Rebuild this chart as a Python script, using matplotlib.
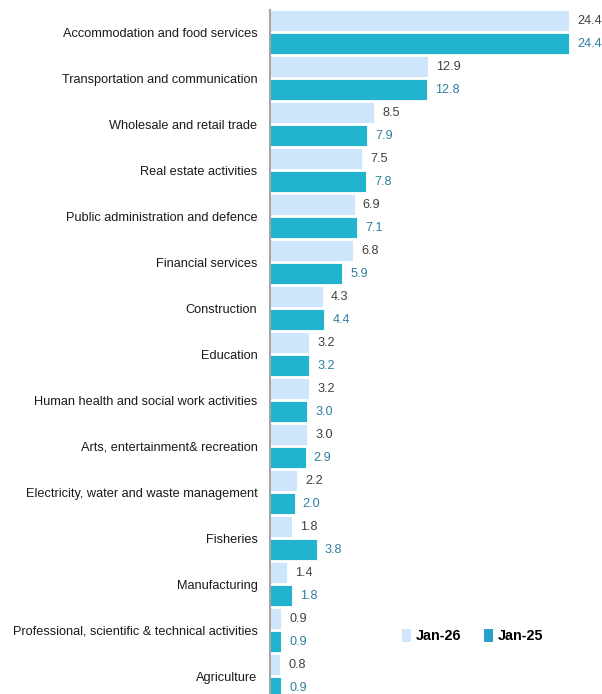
import matplotlib
matplotlib.use("Agg")
import matplotlib.pyplot as plt
from matplotlib import font_manager
from matplotlib.patches import Patch

categories = [
    "Accommodation and food services",
    "Transportation and communication",
    "Wholesale and retail trade",
    "Real estate activities",
    "Public administration and defence",
    "Financial services",
    "Construction",
    "Education",
    "Human health and social work activities",
    "Arts, entertainment& recreation",
    "Electricity, water and waste management",
    "Fisheries",
    "Manufacturing",
    "Professional, scientific & technical activities",
    "Agriculture",
]
jan26 = [24.4, 12.9, 8.5, 7.5, 6.9, 6.8, 4.3, 3.2, 3.2, 3.0, 2.2, 1.8, 1.4, 0.9, 0.8]
jan25 = [24.4, 12.8, 7.9, 7.8, 7.1, 5.9, 4.4, 3.2, 3.0, 2.9, 2.0, 3.8, 1.8, 0.9, 0.9]
series_names = ["Jan-26", "Jan-25"]

names = {f.name for f in font_manager.fontManager.ttflist}
fam = "Liberation Sans" if "Liberation Sans" in names else "DejaVu Sans"
plt.rcParams["font.family"] = [fam, "DejaVu Sans"]

W, H = 602, 694
fig = plt.figure(figsize=(W / 100, H / 100), dpi=100)
ax = fig.add_axes([270 / W, 0, (W - 270) / W, 1 - 5 / H])

light = "#cde6fb"
teal = "#22b3cf"
y = list(range(len(categories)))
h = 0.46
ax.barh([i - 0.25 for i in y], jan26, height=h, color=light, edgecolor="white", linewidth=0.6)
ax.barh([i + 0.25 for i in y], jan25, height=h, color=teal, edgecolor="white", linewidth=0.6)

for i in y:
    ax.annotate(f"{jan26[i]:.1f}", (jan26[i], i - 0.25), xytext=(6, 0), textcoords="offset points",
                va="center", ha="left", fontsize=9.1, color="#404040")
    ax.annotate(f"{jan25[i]:.1f}", (jan25[i], i + 0.25), xytext=(6, 0), textcoords="offset points",
                va="center", ha="left", fontsize=9.1, color="#2f7f9f")

ax.set_xlim(0, 27.1)
ax.set_ylim(14.39, -0.587)
ax.set_yticks(y)
ax.set_yticklabels(categories, fontsize=9.2, color="#1a1a1a")
ax.tick_params(axis="y", length=0, pad=9)
ax.set_xticks([])
for s in ["top", "right", "bottom"]:
    ax.spines[s].set_visible(False)
ax.spines["left"].set_color("#a6a6a6")
ax.spines["left"].set_linewidth(1.5)
ax.spines["left"].set_bounds(-0.48, 14.39)

handles = [Patch(facecolor=light, label=series_names[0]), Patch(facecolor="#2a9fcb", label=series_names[1])]
fig.legend(handles=handles, loc="center left", bbox_to_anchor=(389 / W, 1 - 636 / H), ncol=2,
           frameon=False, prop={"family": fam, "weight": "bold", "size": 10.4},
           handlelength=0.6, handleheight=1.1, handletextpad=0.35, columnspacing=1.6)

fig.savefig("out.png", dpi=100)
